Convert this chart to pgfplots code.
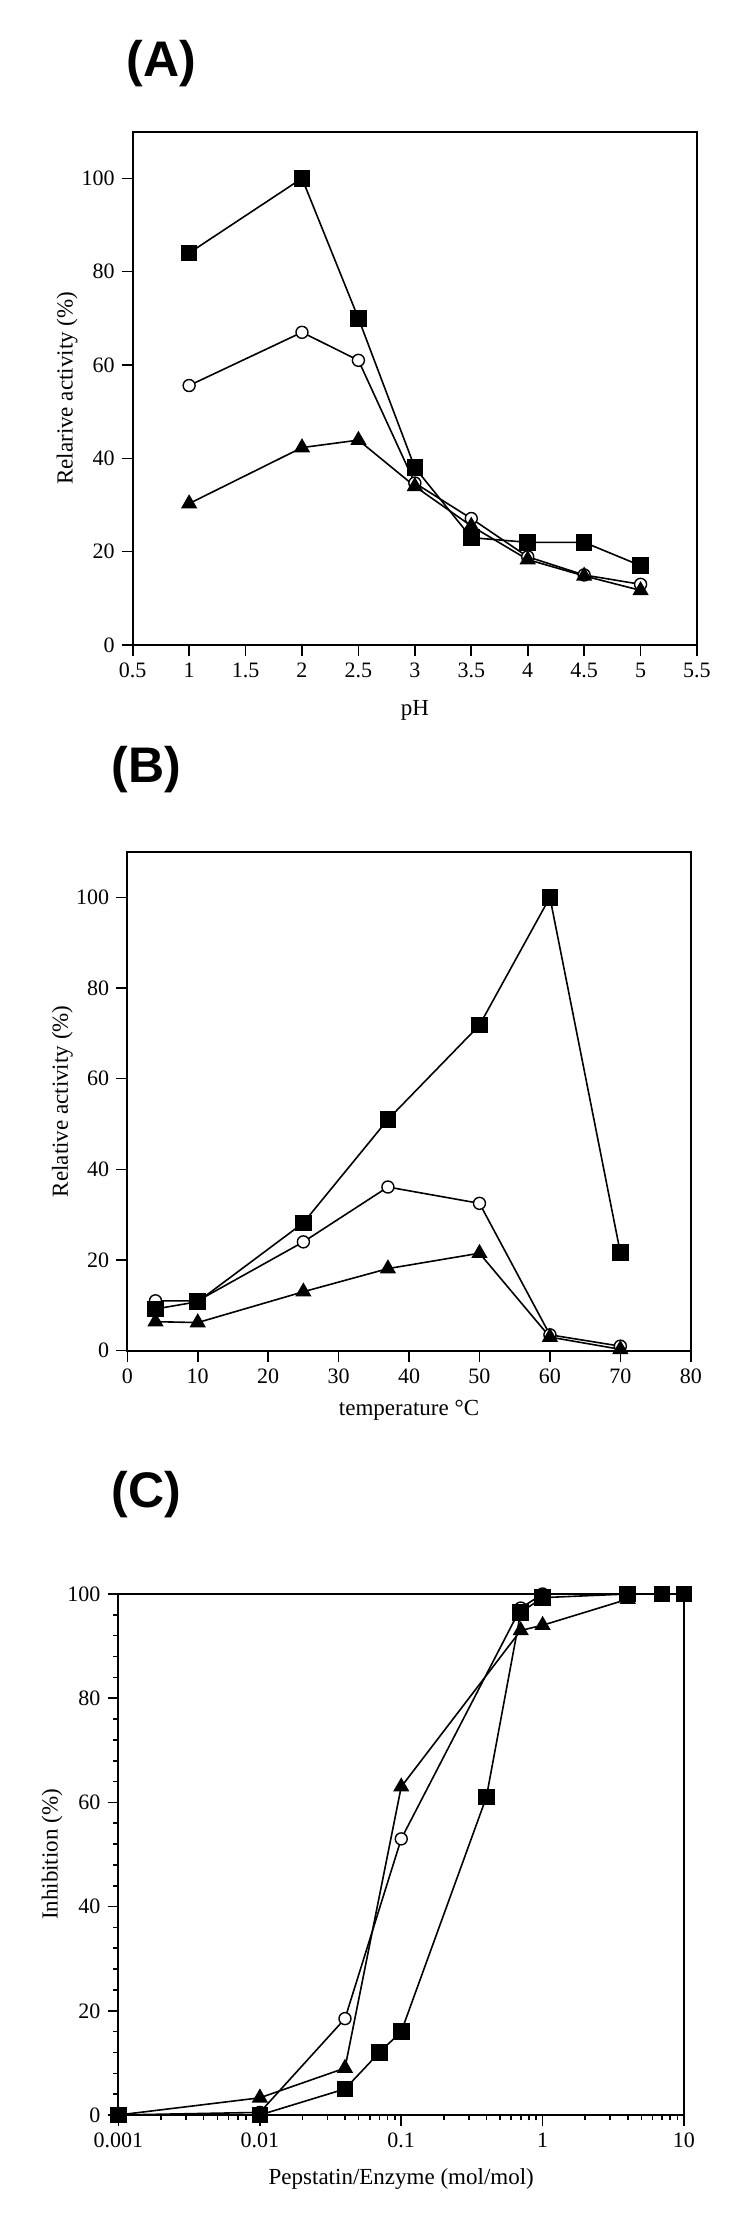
\documentclass[border=0pt]{standalone}
\usepackage{fontspec}
\setmainfont{Liberation Serif}
\newfontfamily\panelfont{Liberation Sans}
\usepackage{pgfplots}
\pgfplotsset{compat=1.18}
\begin{document}
\begin{tikzpicture}
\useasboundingbox (0,0) rectangle (375pt,1107pt);
\pgfplotsset{
  every axis/.append style={
    scale only axis,
    axis line style={line width=1pt},
    tick align=outside,
    xtick pos=bottom, ytick pos=left,
    major tick length=5.5pt,
    minor tick length=2.75pt,
    every tick/.append style={black, line width=0.8pt},
    tick label style={font=\fontsize{11}{13}\selectfont},
    label style={font=\fontsize{11.5}{14}\selectfont},
    /pgf/number format/assume math mode=true,
    clip=false,
  },
  sq/.style={black, line width=0.8pt, mark=square*, mark size=3.75pt, mark options={solid, fill=black}},
  ci/.style={black, line width=0.8pt, mark=*, mark size=3pt, mark options={solid, fill=white, line width=0.7pt}},
  tr/.style={black, line width=0.8pt, mark=triangle*, mark size=3.9pt, mark options={solid, fill=black}},
}
% ---------- Panel A ----------
\node[anchor=west, inner sep=0pt, font=\panelfont\bfseries\fontsize{25}{30}\selectfont] at (63pt,1075pt) {(A)};
\begin{axis}[at={(66.35pt,784.5pt)}, anchor=south west,
  width=282.15pt, height=256.65pt,
  xmin=0.5, xmax=5.5, ymin=0, ymax=110,
  xtick={0.5,1,1.5,2,2.5,3,3.5,4,4.5,5,5.5},
  ytick={0,20,40,60,80,100},
  xlabel={pH}, ylabel={Relarive activity (\%)},
  xlabel style={at={(axis description cs:0.5,-0.1266)}, anchor=center},
  ylabel style={at={(axis description cs:-0.1164,0.5)}, anchor=center},
]
\addplot[ci] coordinates {(1,55.6)(2,67)(2.5,61)(3,34.7)(3.5,27.1)(4,18.9)(4.5,15)(5,13)};
\addplot[tr] coordinates {(1,30.3)(2,42.3)(2.5,43.9)(3,34)(3.5,25.5)(4,18.3)(4.5,14.8)(5,11.7)};
\addplot[sq] coordinates {(1,84)(2,100)(2.5,70)(3,38)(3.5,23)(4,22)(4.5,22)(5,17)};
\end{axis}
% ---------- Panel B ----------
\node[anchor=west, inner sep=0pt, font=\panelfont\bfseries\fontsize{25}{30}\selectfont] at (55.75pt,722pt) {(B)};
\begin{axis}[at={(63.65pt,431.65pt)}, anchor=south west,
  width=281.75pt, height=249.35pt,
  xmin=0, xmax=80, ymin=0, ymax=110,
  xtick={0,10,20,30,40,50,60,70,80},
  ytick={0,20,40,60,80,100},
  xlabel={temperature °C}, ylabel={Relative activity (\%)},
  xlabel style={at={(axis description cs:0.5,-0.119)}, anchor=center},
  ylabel style={at={(axis description cs:-0.115,0.5)}, anchor=center},
]
\addplot[ci] coordinates {(4,11)(10,11)(25,24)(37,36.1)(50,32.5)(60,3.5)(70,1.0)};
\addplot[tr] coordinates {(4,6.4)(10,6.2)(25,13)(37,18.1)(50,21.5)(60,3.0)(70,0.3)};
\addplot[sq] coordinates {(4,9.2)(10,10.8)(25,28.2)(37,51)(50,71.8)(60,100)(70,21.6)};
\end{axis}
% ---------- Panel C ----------
\node[anchor=west, inner sep=0pt, font=\panelfont\bfseries\fontsize{25}{30}\selectfont] at (55.75pt,359.5pt) {(C)};
\begin{axis}[at={(59.25pt,49.5pt)}, anchor=south west,
  width=282.75pt, height=260.5pt,
  xmode=log, xmin=0.001, xmax=10, ymin=0, ymax=100,
  xtick={0.001,0.01,0.1,1,10},
  xticklabels={0.001,0.01,0.1,1,10},
  ytick={0,20,40,60,80,100},
  minor y tick num=4,
  xlabel={Pepstatin/Enzyme (mol/mol)}, ylabel={Inhibition (\%)},
  xlabel style={at={(axis description cs:0.5,-0.123)}, anchor=center},
  ylabel style={at={(axis description cs:-0.1176,0.5)}, anchor=center},
]
\addplot[ci] coordinates {(0.001,0)(0.01,0.5)(0.04,18.5)(0.1,53)(0.7,97.3)(1,100)(4,100)};
\addplot[tr] coordinates {(0.001,0)(0.01,3.3)(0.04,9)(0.1,63)(0.7,93)(1,94)(4,99)};
\addplot[sq] coordinates {(0.001,0)(0.01,0)(0.04,5)(0.07,12)(0.1,16)(0.4,61)(0.7,96.5)(1,99.3)(4,100)(7,100)(10,100)};
\end{axis}
\end{tikzpicture}
\end{document}
